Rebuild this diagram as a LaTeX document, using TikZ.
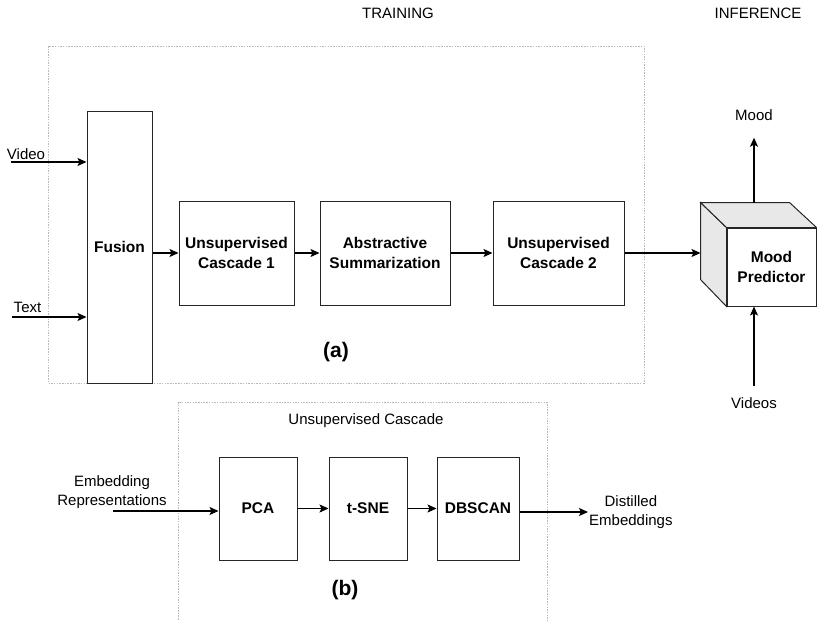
\documentclass[tikz,border=0pt]{standalone}
\usepackage{fontspec}
\setmainfont{Liberation Sans}
\usetikzlibrary{arrows.meta,positioning}

\begin{document}
\begin{tikzpicture}[x=1pt, y=-1pt, every node/.style={font=\fontsize{15}{19.5}\selectfont, align=center},
  box/.style={draw=black!85, line width=1pt, minimum width=78pt, minimum height=104pt, inner sep=2pt, font=\fontsize{15.5}{20}\selectfont\bfseries},
  frame/.style={draw=gray!55, line width=0.8pt, dash pattern=on 1.5pt off 1.2pt},
  cube/.style={draw=black!85, line width=1pt, fill=gray!18},
  arr/.style={-{Stealth[length=9pt, width=8pt, inset=2pt]}, line width=1.1pt},
  lbl/.style={inner sep=1pt},
  tag/.style={font=\fontsize{21}{24}\selectfont\bfseries}]
\useasboundingbox (0,0) rectangle (817,621);
\node (train) at (398,13) {TRAINING};
\node (infer) at (758,13) {INFERENCE};
% (a) training pipeline
\draw[frame] (48,46) rectangle (644,383);
\node[box, minimum width=65pt, minimum height=272pt] (fusion) at (119.5,247) {Fusion};
\node[box, minimum width=115pt] (uc1) at (236.5,253) {Unsupervised\\Cascade 1};
\node[box, minimum width=130pt] (summ) at (385,253) {Abstractive\\Summarization};
\node[box, minimum width=131pt] (uc2) at (558.5,253) {Unsupervised\\Cascade 2};
\node[tag] (taga) at (336,352) {(a)};
\node[lbl] (video) at (26,154) {Video};
\node[lbl] (text) at (27.5,307) {Text};
\coordinate (videoin) at (11,162);
\coordinate (textin) at (12,317);
\draw[arr] (videoin) -- (videoin -| fusion.west);
\draw[arr] (textin) -- (textin -| fusion.west);
\draw[arr] (fusion.east |- uc1.west) -- (uc1.west);
\draw[arr] (uc1) -- (summ);
\draw[arr] (summ) -- (uc2);
% inference cube
\node[box, minimum width=89pt, minimum height=78pt] (mood) at (771.5,267) {Mood\\Predictor};
\coordinate (backnw) at ([shift={(-26,-25)}]mood.north west);
\filldraw[cube] (mood.north west) -- (backnw) -- ++(0,77) -- (mood.south west) -- cycle;
\filldraw[cube] (mood.north west) -- (backnw) -- ++(89,0) -- (mood.north east) -- cycle;
\draw[arr] (uc2) -- (uc2 -| backnw);
\node[lbl] (moodout) at (754,115) {Mood};
\node[lbl] (videos) at (754,403) {Videos};
\draw[arr, shorten >=16pt] (moodout |- backnw) -- (moodout.south);
\draw[arr, shorten <=10pt] (videos.north) -- (videos.north |- mood.south);
% (b) unsupervised cascade
\draw[frame] (178,625) |- (547,402) -- (547,625);
\node (casc) at (366,421) {Unsupervised Cascade};
\node[box, minimum height=103pt] (pca) at (258,508.5) {PCA};
\node[box, minimum height=103pt, right=31pt of pca] (tsne) {t-SNE};
\node[box, minimum height=103pt, minimum width=82pt, right=29pt of tsne] (dbscan) {DBSCAN};
\node[tag] (tagb) at (345,590) {(b)};
\node[lbl] (embed) at (112,492) {Embedding\\Representations};
\coordinate (embin) at (113,511);
\draw[arr] (embin) -- (embin -| pca.west);
\draw[arr] (pca) -- (tsne);
\draw[arr] (tsne) -- (dbscan);
\node[lbl, anchor=west] (distil) at (588,512) {Distilled\\Embeddings};
\draw[arr] (dbscan.east |- distil.west) -- (distil.west);
\end{tikzpicture}
\end{document}
